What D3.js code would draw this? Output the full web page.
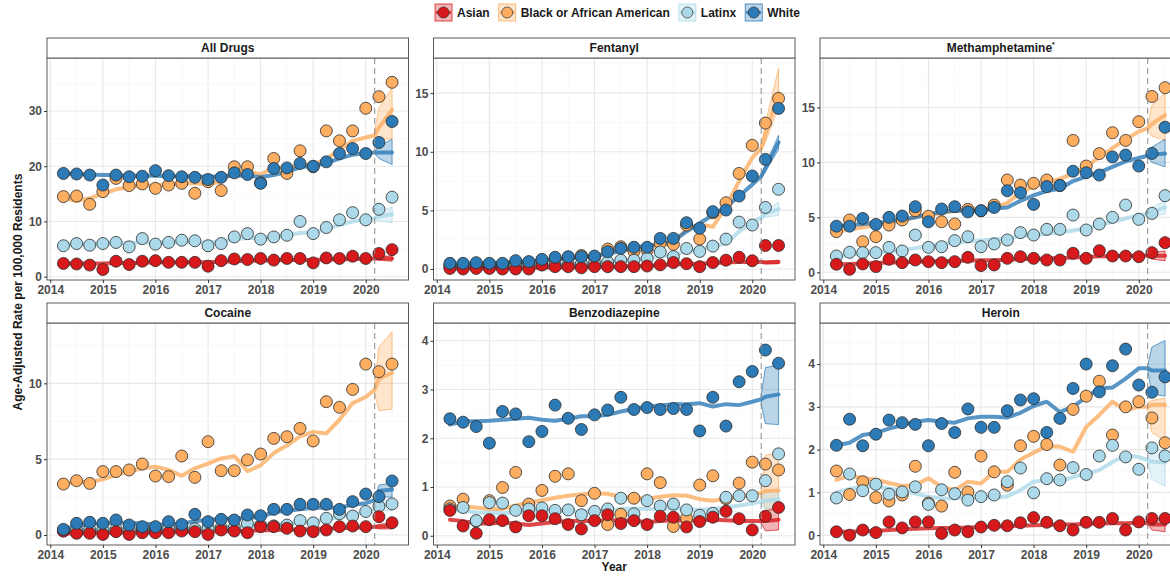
<!DOCTYPE html>
<html>
<head>
<meta charset="utf-8">
<script src="https://cdn.jsdelivr.net/npm/d3@7"></script>
<style>
  body { margin: 0; background: #fff; }
  svg { display: block; font-family: "Liberation Sans", Arial, sans-serif; }
</style>
</head>
<body>
<svg id="chart" width="1170" height="576"></svg>
<script>
// ---- categories and axes ----
const races = ["Asian", "Black or African American", "Latinx", "White"];
const raceColors = ["#d7191c", "#fdae61", "#abd9e9", "#2c7bb6"];
const quarters = [2014.25, 2014.5, 2014.75, 2015, 2015.25, 2015.5, 2015.75, 2016,
  2016.25, 2016.5, 2016.75, 2017, 2017.25, 2017.5, 2017.75, 2018,
  2018.25, 2018.5, 2018.75, 2019, 2019.25, 2019.5, 2019.75, 2020, 2020.25, 2020.5];
const fitQuarters = [2014.25, 2014.5, 2014.75, 2015, 2015.25, 2015.5, 2015.75, 2016,
  2016.25, 2016.5, 2016.75, 2017, 2017.25, 2017.5, 2017.75, 2018,
  2018.25, 2018.5, 2018.75, 2019, 2019.25, 2019.5, 2019.75, 2020];
const forecastX = [2020.17, 2020.25, 2020.5];
const breakYear = 2020.17;
const yearTicks = [2014, 2015, 2016, 2017, 2018, 2019, 2020];
const yearMinor = [2014.5, 2015.5, 2016.5, 2017.5, 2018.5, 2019.5, 2020.5];

// ---- All Drugs ----
const allDrugsAsian = [2.4,2.3,2.1,1.3,2.8,2.2,2.8,2.9,2.6,2.6,2.6,1.9,2.9,3.2,3.1,3.3,3.0,3.3,3.3,2.5,3.4,3.3,3.7,3.3,4.2,4.9];
const allDrugsBlack = [14.5,14.6,13.1,15.4,17.8,16.5,16.8,16.0,16.6,16.9,15.1,17.2,15.6,19.9,19.9,17.0,21.4,18.7,22.8,19.9,26.4,24.6,26.4,30.5,32.6,35.2];
const allDrugsLatinx = [5.6,6.0,5.7,6.0,6.2,5.4,6.9,5.9,6.2,6.6,6.5,5.6,6.0,7.2,7.8,6.8,7.2,7.5,10.0,7.8,8.9,10.3,11.6,10.3,12.2,14.4];
const allDrugsWhite = [18.7,18.6,18.4,16.6,18.4,18.1,18.2,19.2,18.3,18.1,18.0,17.6,18.0,18.8,18.5,16.9,19.6,19.7,20.5,20.0,20.8,22.3,23.2,22.3,24.3,28.1];
const allDrugsAsianFit = [2.4,2.4,2.4,2.4,2.5,2.5,2.5,2.6,2.6,2.6,2.6,2.6,2.7,2.8,2.9,2.9,3.0,3.0,3.0,3.0,3.1,3.1,3.2,3.2];
const allDrugsBlackFit = [14.3,13.7,14.2,15.0,15.8,16.3,16.5,16.5,16.7,16.9,16.9,16.8,17.2,19.2,19.1,18.5,19.8,19.5,20.3,20.3,21.3,23.0,24.6,25.2];
const allDrugsLatinxFit = [5.8,5.9,5.9,6.0,6.0,6.1,6.2,6.2,6.2,6.3,6.2,6.2,6.4,6.8,7.0,7.0,7.3,7.5,7.9,8.0,8.6,9.4,10.0,10.4];
const allDrugsWhiteFit = [18.7,18.6,18.5,18.4,18.4,18.3,18.3,18.3,18.2,18.2,18.2,18.1,18.2,18.3,18.3,18.0,18.4,19.0,19.8,20.1,20.6,21.4,22.1,22.4];
// forecast rows: [mid, lower, upper] at each forecastX
const allDrugsAsianFc = [[3.3,3.2,3.4],[3.3,3.0,3.6],[3.3,2.8,3.8]];
const allDrugsBlackFc = [[25.6,25.0,26.4],[27.0,24.8,30.5],[30.2,25.0,34.2]];
const allDrugsLatinxFc = [[10.6,10.4,10.8],[10.9,10.1,11.8],[11.3,9.8,12.6]];
const allDrugsWhiteFc = [[22.5,22.3,22.7],[22.5,21.4,23.6],[22.5,20.3,24.9]];

// ---- Fentanyl ----
const fentanylAsian = [0.05,0.0,0.05,0.05,0.0,0.0,0.0,0.35,0.2,0.2,0.1,0.2,0.2,0.2,0.2,0.25,0.35,0.55,0.45,0.2,0.55,0.75,1.0,0.7,2.0,2.0];
const fentanylBlack = [0.3,0.35,0.4,0.4,0.4,0.55,0.55,0.75,0.85,1.0,1.15,1.0,1.7,1.9,1.5,1.6,2.2,2.1,3.75,2.55,4.8,5.65,8.15,10.55,12.45,14.55];
const fentanylLatinx = [0.2,0.2,0.25,0.25,0.25,0.3,0.3,0.35,0.35,0.4,0.45,0.5,0.6,0.75,0.75,0.9,1.45,1.05,1.75,1.5,1.95,2.55,4.0,3.75,5.25,6.8];
const fentanylWhite = [0.48,0.48,0.54,0.48,0.48,0.71,0.63,0.82,1.0,1.05,1.05,1.1,1.48,1.76,1.85,1.85,2.61,2.61,3.95,3.47,4.89,5.03,6.22,7.93,9.35,13.7];
const fentanylAsianFit = [0.05,0.05,0.05,0.05,0.06,0.07,0.08,0.1,0.12,0.13,0.15,0.17,0.2,0.22,0.25,0.28,0.32,0.38,0.42,0.45,0.5,0.55,0.6,0.6];
const fentanylBlackFit = [0.35,0.4,0.45,0.45,0.5,0.55,0.6,0.7,0.8,0.9,1.0,1.1,1.4,1.6,1.7,1.8,2.0,2.2,3.4,3.8,3.6,5.3,7.5,9.5];
const fentanylLatinxFit = [0.2,0.22,0.25,0.27,0.3,0.32,0.35,0.38,0.4,0.45,0.5,0.55,0.6,0.7,0.8,0.9,1.1,1.2,1.5,1.7,1.9,2.2,3.2,4.0];
const fentanylWhiteFit = [0.45,0.47,0.5,0.52,0.55,0.6,0.65,0.72,0.8,0.9,1.0,1.1,1.3,1.55,1.8,2.0,2.1,2.4,3.2,3.9,4.6,5.3,6.2,7.2];
const fentanylAsianFc = [[0.6,0.55,0.65],[0.55,0.45,0.65],[0.6,0.45,0.75]];
const fentanylBlackFc = [[10.3,10.1,10.5],[11.5,10.8,12.4],[15.0,13.8,17.1]];
const fentanylLatinxFc = [[4.4,4.3,4.5],[4.7,4.4,5.0],[5.1,4.6,5.7]];
const fentanylWhiteFc = [[7.9,7.8,8.0],[8.6,8.3,8.9],[10.8,10.2,11.4]];

// ---- Methamphetamine ----
const methAsian = [0.73,0.27,0.76,0.52,1.18,0.88,1.12,0.97,0.88,0.97,1.36,0.61,0.67,1.27,1.42,1.27,1.12,1.12,1.73,1.27,1.97,1.48,1.48,1.42,1.79,2.7];
const methBlack = [3.7,4.76,2.79,3.24,4.3,4.76,5.6,5.1,4.6,4.4,5.73,5.6,6.12,8.4,7.94,8.1,8.4,7.9,12.0,9.67,10.8,12.7,12.0,13.7,16.0,16.8];
const methLatinx = [1.48,1.82,1.79,1.79,2.27,1.94,3.39,2.27,2.33,2.88,3.24,2.33,2.58,2.94,3.61,3.39,3.91,3.91,5.21,3.85,4.39,5.0,6.12,4.82,5.36,6.97];
const methWhite = [4.2,4.2,4.9,4.36,5.0,5.12,5.97,4.6,5.76,5.97,5.5,5.6,5.9,7.42,7.24,6.18,7.8,7.9,9.2,9.06,8.85,10.5,10.67,9.67,10.82,13.2];
const methAsianFit = [0.7,0.75,0.8,0.85,0.9,0.9,0.95,1.0,1.0,1.05,1.05,1.1,1.1,1.15,1.2,1.2,1.25,1.3,1.35,1.4,1.45,1.45,1.5,1.5];
const methBlackFit = [3.7,3.9,4.1,4.3,4.5,4.7,5.0,5.2,5.4,5.6,5.7,5.8,5.9,6.3,7.3,7.8,8.2,8.5,9.0,9.6,10.5,11.3,12.1,12.8];
const methLatinxFit = [1.4,1.6,1.7,1.8,1.9,2.0,2.2,2.4,2.6,2.7,2.8,2.9,3.0,3.1,3.3,3.4,3.5,3.6,3.8,4.0,4.3,4.6,4.9,5.2];
const methWhiteFit = [4.2,4.3,4.4,4.5,4.6,4.8,5.0,5.3,5.5,5.6,5.6,5.6,5.8,5.9,6.5,7.0,7.4,7.6,8.3,8.7,9.1,9.6,10.1,10.4];
const methAsianFc = [[1.5,1.45,1.55],[1.5,1.2,1.8],[1.5,1.05,1.95]];
const methBlackFc = [[13.1,12.9,13.3],[13.5,12.4,15.2],[14.3,12.0,16.3]];
const methLatinxFc = [[5.3,5.2,5.4],[5.5,5.1,5.9],[5.9,5.3,6.5]];
const methWhiteFc = [[10.6,10.5,10.7],[10.7,10.0,11.4],[10.8,9.6,12.1]];

// ---- Cocaine ----
const cocaineAsian = [0.25,0.11,0.11,0.04,0.22,0.04,0.15,0.15,0.15,0.26,0.22,0.04,0.33,0.26,0.15,0.55,0.55,0.44,0.26,0.22,0.33,0.55,0.59,0.55,1.21,0.81];
const cocaineBlack = [3.36,3.58,3.4,4.18,4.18,4.29,4.68,3.89,3.85,5.21,3.8,6.15,4.24,4.24,4.95,5.34,6.37,6.48,7.03,6.2,8.79,8.42,9.6,11.27,10.77,11.27];
const cocaineLatinx = [0.3,0.35,0.35,0.35,0.4,0.35,0.4,0.4,0.45,0.45,0.4,0.45,0.5,0.5,0.75,0.65,0.6,0.65,0.95,0.8,1.1,1.4,1.25,1.55,1.9,2.05];
const cocaineWhite = [0.37,0.77,0.84,0.77,0.99,0.66,0.55,0.55,0.88,0.7,1.36,0.88,1.03,0.99,1.32,1.27,1.69,1.69,2.02,2.02,2.02,1.69,2.2,2.7,2.53,3.56];
const cocaineAsianFit = [0.1,0.12,0.13,0.14,0.15,0.16,0.17,0.18,0.19,0.2,0.21,0.22,0.24,0.26,0.28,0.3,0.33,0.35,0.37,0.4,0.42,0.45,0.48,0.5];
const cocaineBlackFit = [3.36,3.5,3.5,3.67,3.96,4.2,4.4,4.5,4.29,3.9,4.4,4.7,5.05,5.2,4.2,4.6,5.4,5.9,6.5,6.8,6.7,7.6,8.7,9.1];
const cocaineLatinxFit = [0.3,0.32,0.35,0.37,0.4,0.4,0.42,0.43,0.45,0.45,0.47,0.5,0.52,0.55,0.6,0.62,0.7,0.75,0.8,0.9,1.0,1.2,1.35,1.5];
const cocaineWhiteFit = [0.4,0.6,0.7,0.75,0.8,0.8,0.75,0.7,0.7,0.75,0.9,1.0,1.05,1.1,1.1,1.2,1.5,1.6,1.7,1.8,1.8,1.8,2.0,2.1];
const cocaineAsianFc = [[0.55,0.5,0.6],[0.55,0.4,0.7],[0.6,0.4,0.8]];
const cocaineBlackFc = [[9.6,9.3,9.9],[10.3,8.2,12.4],[10.7,8.3,13.4]];
const cocaineLatinxFc = [[1.6,1.55,1.65],[1.9,1.6,2.2],[2.0,1.6,2.4]];
const cocaineWhiteFc = [[2.3,2.25,2.35],[2.9,2.5,3.3],[3.0,2.5,3.4]];

// ---- Benzodiazepine ----
const benzoAsian = [0.52,0.2,0.05,0.33,0.31,0.18,0.41,0.41,0.35,0.23,0.14,0.31,0.43,0.25,0.31,0.23,0.4,0.38,0.18,0.29,0.38,0.5,0.35,0.12,0.4,0.58];
const benzoBlack = [0.61,0.75,0.3,0.72,0.99,1.3,0.65,0.93,1.22,1.27,0.72,0.87,0.23,0.44,0.77,1.27,1.09,0.19,0.36,1.04,1.23,0.76,1.08,1.51,1.47,1.35];
const benzoLatinx = [0.55,0.58,0.31,0.68,0.67,0.52,0.55,0.57,0.52,0.53,0.43,0.5,0.55,0.77,0.45,0.72,0.61,0.65,0.53,0.42,0.46,0.79,0.82,0.82,1.13,1.68];
const benzoWhite = [2.4,2.33,2.24,1.9,2.55,2.5,1.93,2.14,2.68,2.41,2.18,2.48,2.58,2.84,2.59,2.63,2.59,2.61,2.59,2.15,2.84,2.25,3.16,3.37,3.81,3.54];
const benzoAsianFit = [0.33,0.3,0.25,0.25,0.27,0.25,0.22,0.25,0.28,0.3,0.3,0.3,0.32,0.32,0.3,0.28,0.3,0.32,0.3,0.32,0.33,0.32,0.3,0.3];
const benzoBlackFit = [0.6,0.6,0.58,0.55,0.55,0.62,0.68,0.73,0.78,0.82,0.85,0.87,0.86,0.8,0.78,0.76,0.8,0.83,0.82,0.75,0.72,0.76,0.8,0.85];
const benzoLatinxFit = [0.55,0.5,0.48,0.47,0.46,0.47,0.5,0.52,0.5,0.5,0.5,0.5,0.52,0.55,0.56,0.55,0.55,0.56,0.55,0.53,0.55,0.58,0.62,0.66];
const benzoWhiteFit = [2.28,2.35,2.35,2.36,2.38,2.4,2.42,2.38,2.36,2.4,2.45,2.45,2.48,2.55,2.6,2.65,2.67,2.7,2.7,2.72,2.65,2.7,2.68,2.75];
const benzoAsianFc = [[0.3,0.25,0.35],[0.3,0.1,0.5],[0.33,0.12,0.6]];
const benzoBlackFc = [[0.88,0.8,0.95],[0.92,0.55,1.65],[0.93,0.5,1.7]];
const benzoLatinxFc = [[0.7,0.65,0.75],[0.72,0.55,0.9],[0.75,0.55,0.95]];
const benzoWhiteFc = [[2.8,2.7,2.9],[2.85,2.3,3.45],[2.9,2.28,3.5]];

// ---- Heroin ----
const heroinAsian = [0.08,0.0,0.12,0.06,0.31,0.17,0.31,0.31,0.04,0.12,0.08,0.19,0.23,0.22,0.29,0.41,0.3,0.22,0.12,0.3,0.3,0.39,0.12,0.31,0.39,0.39];
const heroinBlack = [1.5,0.95,1.25,0.88,0.8,0.94,1.61,0.75,0.68,1.47,1.01,1.85,1.48,1.17,2.09,2.31,2.12,1.64,2.94,3.25,3.6,2.34,3.0,3.12,2.74,2.16];
const heroinLatinx = [0.87,1.43,1.04,1.19,0.96,1.01,1.13,0.72,1.06,0.97,0.82,0.9,0.94,1.25,1.57,0.99,1.32,1.29,1.58,1.42,1.85,2.1,1.83,1.54,2.04,1.85];
const heroinWhite = [2.1,2.71,2.09,2.36,2.69,2.63,2.59,2.09,2.61,2.4,2.95,2.52,2.52,2.91,3.16,3.19,2.4,2.73,3.43,4.0,3.35,3.96,4.35,3.51,3.34,3.7];
const heroinAsianFit = [0.08,0.08,0.09,0.1,0.12,0.14,0.15,0.16,0.17,0.17,0.18,0.19,0.2,0.21,0.22,0.23,0.24,0.25,0.25,0.26,0.27,0.28,0.28,0.29];
const heroinBlackFit = [1.29,1.4,1.33,1.3,1.22,1.15,1.17,1.33,1.13,1.05,1.25,1.21,1.48,1.48,1.77,1.93,2.08,2.07,1.95,2.53,2.81,3.12,2.92,3.0];
const heroinLatinxFit = [1.0,1.08,1.13,1.13,1.09,1.04,0.97,0.9,0.86,0.86,0.9,0.9,0.86,0.91,1.05,1.25,1.29,1.25,1.36,1.44,1.52,1.71,1.87,1.83];
const heroinWhiteFit = [2.1,2.16,2.34,2.39,2.49,2.57,2.65,2.69,2.65,2.63,2.73,2.77,2.77,2.75,2.86,3.02,3.12,2.88,3.0,3.23,3.43,3.45,3.66,3.9];
const heroinAsianFc = [[0.28,0.25,0.31],[0.25,0.12,0.38],[0.25,0.08,0.4]];
const heroinBlackFc = [[3.0,2.9,3.1],[3.05,2.4,3.15],[3.05,2.2,3.2]];
const heroinLatinxFc = [[1.75,1.7,1.8],[1.72,1.3,1.95],[1.7,1.15,2.0]];
const heroinWhiteFc = [[3.9,3.85,3.95],[3.85,3.3,4.4],[3.85,3.25,4.55]];

// ---- facet definitions ----
const panels = [
  { title: "All Drugs", yDomain: [-0.6, 39.6], yTicks: [0, 10, 20, 30], yMinor: [5, 15, 25, 35],
    pts: [allDrugsAsian, allDrugsBlack, allDrugsLatinx, allDrugsWhite],
    fit: [allDrugsAsianFit, allDrugsBlackFit, allDrugsLatinxFit, allDrugsWhiteFit],
    fc: [allDrugsAsianFc, allDrugsBlackFc, allDrugsLatinxFc, allDrugsWhiteFc] },
  { title: "Fentanyl", yDomain: [-0.94, 18.0], yTicks: [0, 5, 10, 15], yMinor: [2.5, 7.5, 12.5, 17.5],
    pts: [fentanylAsian, fentanylBlack, fentanylLatinx, fentanylWhite],
    fit: [fentanylAsianFit, fentanylBlackFit, fentanylLatinxFit, fentanylWhiteFit],
    fc: [fentanylAsianFc, fentanylBlackFc, fentanylLatinxFc, fentanylWhiteFc] },
  { title: "Methamphetamine", sup: "*", yDomain: [-0.7, 19.5], yTicks: [0, 5, 10, 15], yMinor: [2.5, 7.5, 12.5, 17.5],
    pts: [methAsian, methBlack, methLatinx, methWhite],
    fit: [methAsianFit, methBlackFit, methLatinxFit, methWhiteFit],
    fc: [methAsianFc, methBlackFc, methLatinxFc, methWhiteFc] },
  { title: "Cocaine", yDomain: [-0.66, 13.98], yTicks: [0, 5, 10], yMinor: [2.5, 7.5, 12.5],
    pts: [cocaineAsian, cocaineBlack, cocaineLatinx, cocaineWhite],
    fit: [cocaineAsianFit, cocaineBlackFit, cocaineLatinxFit, cocaineWhiteFit],
    fc: [cocaineAsianFc, cocaineBlackFc, cocaineLatinxFc, cocaineWhiteFc] },
  { title: "Benzodiazepine", yDomain: [-0.19, 4.365], yTicks: [0, 1, 2, 3, 4], yMinor: [0.5, 1.5, 2.5, 3.5],
    pts: [benzoAsian, benzoBlack, benzoLatinx, benzoWhite],
    fit: [benzoAsianFit, benzoBlackFit, benzoLatinxFit, benzoWhiteFit],
    fc: [benzoAsianFc, benzoBlackFc, benzoLatinxFc, benzoWhiteFc] },
  { title: "Heroin", yDomain: [-0.23, 4.96], yTicks: [0, 1, 2, 3, 4], yMinor: [0.5, 1.5, 2.5, 3.5, 4.5],
    pts: [heroinAsian, heroinBlack, heroinLatinx, heroinWhite],
    fit: [heroinAsianFit, heroinBlackFit, heroinLatinxFit, heroinWhiteFit],
    fc: [heroinAsianFc, heroinBlackFc, heroinLatinxFc, heroinWhiteFc] }
];

// ---- layout ----
const svg = d3.select("#chart");
const colLeft = [47, 433.5, 820];
const panelW = 361.5;
const stripTop = [38, 303];
const stripH = 20;
const plotH = 222;
const xDomain = [2013.9375, 2020.8125];
const drawOrder = [1, 2, 0, 3];
const tickColor = "#4d4d4d";

const defs = svg.append("defs");

panels.forEach((p, i) => {
  const col = i % 3, row = Math.floor(i / 3);
  const left = colLeft[col], top = stripTop[row] + stripH;
  const x = d3.scaleLinear().domain(xDomain).range([left, left + panelW]);
  const y = d3.scaleLinear().domain(p.yDomain).range([top + plotH, top]);
  const g = svg.append("g");

  defs.append("clipPath").attr("id", "clip" + i)
    .append("rect").attr("x", left).attr("y", top).attr("width", panelW).attr("height", plotH);

  // background and grid
  g.append("rect").attr("x", left).attr("y", top).attr("width", panelW).attr("height", plotH).attr("fill", "#fff");
  g.selectAll(".vminor").data(yearMinor).join("line")
    .attr("x1", d => x(d)).attr("x2", d => x(d)).attr("y1", top).attr("y2", top + plotH)
    .attr("stroke", "#f3f3f3").attr("stroke-width", 0.6);
  g.selectAll(".hminor").data(p.yMinor).join("line")
    .attr("x1", left).attr("x2", left + panelW).attr("y1", d => y(d)).attr("y2", d => y(d))
    .attr("stroke", "#f3f3f3").attr("stroke-width", 0.6);
  g.selectAll(".vmajor").data(yearTicks).join("line")
    .attr("x1", d => x(d)).attr("x2", d => x(d)).attr("y1", top).attr("y2", top + plotH)
    .attr("stroke", "#e8e8e8").attr("stroke-width", 1.1);
  g.selectAll(".hmajor").data(p.yTicks).join("line")
    .attr("x1", left).attr("x2", left + panelW).attr("y1", d => y(d)).attr("y2", d => y(d))
    .attr("stroke", "#e8e8e8").attr("stroke-width", 1.1);

  const marks = g.append("g").attr("clip-path", `url(#clip${i})`);

  // forecast ribbons, then smoothed trend lines
  drawOrder.forEach(k => {
    const band = p.fc[k].map((r, j) => ({ x: forecastX[j], lo: r[1], hi: r[2] }));
    marks.append("path").datum(band)
      .attr("d", d3.area().x(d => x(d.x)).y0(d => y(d.lo)).y1(d => y(d.hi)))
      .attr("fill", raceColors[k]).attr("fill-opacity", 0.32)
      .attr("stroke", raceColors[k]).attr("stroke-width", 0.8).attr("stroke-opacity", 0.9);
  });
  drawOrder.forEach(k => {
    const trend = p.fit[k].map((v, j) => ({ x: fitQuarters[j], v }))
      .concat(p.fc[k].map((r, j) => ({ x: forecastX[j], v: r[0] })));
    marks.append("path").datum(trend)
      .attr("d", d3.line().x(d => x(d.x)).y(d => y(d.v)))
      .attr("fill", "none").attr("stroke", raceColors[k])
      .attr("stroke-width", 4).attr("stroke-opacity", 0.8)
      .attr("stroke-linejoin", "round").attr("stroke-linecap", "round");
  });

  // pandemic break
  g.append("line").attr("x1", x(breakYear)).attr("x2", x(breakYear))
    .attr("y1", top).attr("y2", top + plotH)
    .attr("stroke", "#8c8c8c").attr("stroke-width", 1).attr("stroke-dasharray", "6,4");

  // observed quarterly rates
  drawOrder.forEach(k => {
    marks.selectAll(null).data(p.pts[k]).join("circle")
      .attr("cx", (d, j) => x(quarters[j])).attr("cy", d => y(d)).attr("r", 6)
      .attr("fill", raceColors[k]).attr("stroke", "#2b2b2b").attr("stroke-width", 0.8);
  });

  // panel border
  g.append("rect").attr("x", left).attr("y", top).attr("width", panelW).attr("height", plotH)
    .attr("fill", "none").attr("stroke", "#5a5a5a").attr("stroke-width", 1);

  // strip
  g.append("rect").attr("x", left).attr("y", stripTop[row]).attr("width", panelW).attr("height", stripH)
    .attr("fill", "#fff").attr("stroke", "#5a5a5a").attr("stroke-width", 1);
  const st = g.append("text").attr("x", left + panelW / 2).attr("y", stripTop[row] + stripH / 2 + 4)
    .attr("text-anchor", "middle").attr("font-size", 12).attr("font-weight", "bold").attr("fill", "#1a1a1a")
    .text(p.title);
  if (p.sup) st.append("tspan").attr("font-size", 7).attr("dy", -5).text(p.sup);

  // axes
  const ax = g.append("g").attr("transform", `translate(0,${top + plotH})`)
    .call(d3.axisBottom(x).tickValues(yearTicks).tickFormat(d3.format("d")).tickSize(3).tickPadding(2));
  const ay = g.append("g").attr("transform", `translate(${left},0)`)
    .call(d3.axisLeft(y).tickValues(p.yTicks).tickFormat(d3.format("~g")).tickSize(3).tickPadding(2));
  [ax, ay].forEach(a => {
    a.select(".domain").remove();
    a.selectAll(".tick line").attr("stroke", "#333");
    a.selectAll(".tick text").attr("fill", tickColor).attr("font-size", 12).attr("font-weight", "bold")
      .attr("font-family", "'Liberation Sans', Arial, sans-serif");
  });
});

// axis titles
svg.append("text").attr("x", colLeft[1] + panelW / 2).attr("y", 571)
  .attr("text-anchor", "middle").attr("font-size", 12).attr("font-weight", "bold").attr("fill", "#1a1a1a")
  .text("Year");
svg.append("text").attr("transform", "translate(22,292) rotate(-90)")
  .attr("text-anchor", "middle").attr("font-size", 12).attr("font-weight", "bold").attr("fill", "#1a1a1a")
  .text("Age-Adjusted Rate per 100,000 Residents");

// legend
const legend = svg.append("g");
let lx = 435;
races.forEach((r, k) => {
  const item = legend.append("g").attr("transform", `translate(${lx},4)`);
  item.append("rect").attr("width", 17).attr("height", 17)
    .attr("fill", raceColors[k]).attr("fill-opacity", 0.32)
    .attr("stroke", raceColors[k]).attr("stroke-width", 0.8);
  item.append("line").attr("x1", 1).attr("x2", 16).attr("y1", 8.5).attr("y2", 8.5)
    .attr("stroke", raceColors[k]).attr("stroke-width", 3).attr("stroke-opacity", 0.8);
  item.append("circle").attr("cx", 8.5).attr("cy", 8.5).attr("r", 5.5)
    .attr("fill", raceColors[k]).attr("stroke", "#2b2b2b").attr("stroke-width", 0.7);
  const t = item.append("text").attr("x", 22).attr("y", 13)
    .attr("font-size", 12).attr("font-weight", "bold").attr("fill", "#1a1a1a").text(r);
  lx += 22 + t.node().getComputedTextLength() + 9;
});
</script>
</body>
</html>
